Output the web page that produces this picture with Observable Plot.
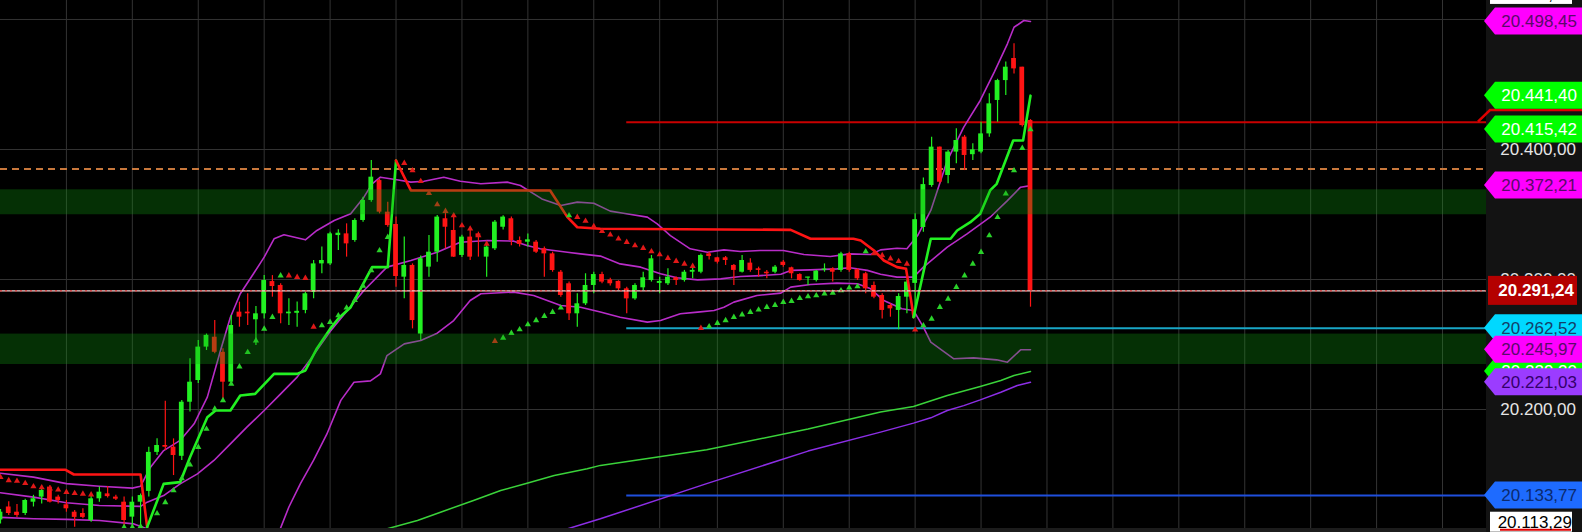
<!DOCTYPE html>
<html><head><meta charset="utf-8">
<script src="https://cdn.jsdelivr.net/npm/d3@7"></script>
<script src="https://cdn.jsdelivr.net/npm/@observablehq/plot@0.6"></script>
<style>html,body{margin:0;padding:0;background:#000;overflow:hidden}#chart svg{display:block}</style>
</head><body><div id="chart"></div>
<script>
// ---------- candle data (bar index 0..125) ----------
const open = [20115,20125,20121,20120,20128.7,20132.6,20140.3,20132.6,20126.7,20121,
20120,20114.6,20131.3,20135.1,20132.6,20128.7,20117.2,20128.7,20137,20167,
20172.3,20171,20164,20205.6,20222.3,20248,20255.6,20244,20221,20274.9,
20274.9,20269,20273.6,20298.4,20295.4,20273.6,20274,20276.2,20290,20312,
20312,20333.8,20335.1,20330,20345.4,20360.8,20376.1,20351.8,20342.3,20301.8,
20310.8,20258,20309.5,20321,20346.7,20337.7,20318.5,20332.6,20335.1,20317.2,
20323.6,20340.2,20346.7,20330,20328.7,20328.7,20323.6,20319.7,20305.6,20296.7,
20273.6,20281.3,20295.4,20303.8,20299.7,20298.5,20292.8,20285.1,20293.6,20299.2,
20297,20296.7,20301.3,20299.2,20305.6,20305.6,20319.7,20316.7,20316.7,20310.8,
20305.6,20312.6,20308.2,20305.6,20305.6,20313.3,20309,20303.8,20301,20299.2,
20307,20308.2,20307,20319.7,20307.5,20304.4,20295.4,20287.7,20280,20276.2,
20286.4,20297,20340,20372.3,20401.8,20380,20398,20409.5,20396,20398,
20412,20437.7,20453,20470,20463.3,20422.3];
const high = [20123,20129,20127,20131,20134,20141,20141.5,20134,20130,20122.3,
20123.6,20133.8,20140.3,20140.8,20134,20132.6,20132.6,20135,20171,20177.4,
20206.4,20177.4,20206.9,20239,20253,20258,20268.4,20246.7,20272.3,20282.6,
20289,20279.2,20303,20303,20296.7,20285.1,20282.6,20290.2,20314.6,20324.9,
20336.4,20338.2,20342.8,20346.7,20363.3,20391.5,20377.4,20359.5,20348,20332.6,
20312,20318,20333.8,20349.2,20353.1,20350.5,20334,20340.2,20336.4,20327.4,
20345.4,20349,20348,20332.6,20335,20330,20324.9,20321,20307,20298,
20289,20304.4,20305.6,20305.6,20301,20299,20294,20296.7,20305.6,20318.5,
20301.8,20308.2,20302,20307,20309.5,20319.7,20321,20317.2,20317.7,20311.5,
20318.5,20316,20309.5,20307,20310.8,20314.6,20309.5,20304.4,20301.8,20307,
20312,20309,20321,20321,20308.2,20305.6,20298,20289,20281.3,20289,
20299.2,20350.5,20378,20409.5,20402,20399.2,20415.9,20410.8,20404.4,20421,
20442.8,20454,20467.2,20481.3,20463.3,20423];
const low = [20112,20118.5,20117,20118.5,20125,20127.4,20128,20127.4,20121,20109.5,
20116,20113.3,20128.7,20132,20130,20109.5,20109.5,20109.5,20132.6,20164.6,
20168.5,20149.2,20160.8,20198,20220,20245.4,20242.8,20205.6,20218.5,20263.3,
20264.6,20249.2,20269.7,20286.4,20265.9,20264.6,20263.3,20273.6,20285.1,20304.4,
20310.8,20322.3,20317.2,20328.7,20344.1,20359.5,20350.5,20340.2,20294.1,20285.1,
20262,20253,20301.8,20313.3,20323.6,20317,20317,20314.6,20317.2,20301.8,
20322.3,20338,20326,20325,20325,20320,20301.8,20305.6,20286.4,20268.4,
20263.3,20280,20289,20296.7,20295,20291.5,20273.6,20284,20291.5,20298,
20289,20295.4,20295.4,20298,20300.5,20304.4,20315,20312,20310.8,20295.4,
20305,20305.6,20301.8,20300.5,20304.4,20309.5,20300.5,20298.7,20295.4,20298,
20305.6,20298,20305.6,20305.6,20299.2,20289,20285.1,20269.7,20271,20261.3,
20273.6,20271,20336.4,20371,20373.6,20373.6,20389,20383.8,20391.5,20396.7,
20409.5,20421,20441.5,20458,20417.2,20278.7];
const close = [20121,20120,20118.5,20130,20131.3,20137.7,20128.7,20130,20123.6,20117,
20117,20131.3,20136.4,20133,20131,20114.6,20128.7,20133.8,20167,20172.3,
20171,20164.6,20205.6,20221,20248,20257,20244,20221,20264.6,20271,
20273.6,20273.6,20299.2,20294.6,20273.6,20274.9,20275.5,20289,20312,20314.6,
20335.1,20335.6,20327.4,20345.4,20360.8,20378.7,20351.8,20341.5,20302.3,20310.8,
20268.4,20316,20321,20348,20340.2,20317.2,20332.6,20317.2,20332.6,20324.9,
20344.1,20348,20330,20327,20330.5,20321,20319.7,20306.9,20287.7,20273.6,
20281.3,20295.4,20303.8,20298,20296.7,20292.8,20285.1,20295.4,20301.3,20315.9,
20298.5,20301.8,20299.2,20305.6,20307,20318.5,20317.7,20313.3,20314.6,20307,
20314.6,20307,20307,20304.4,20309.5,20310.8,20304.4,20299.2,20301.8,20306.4,
20308,20305.6,20319.7,20307,20300.5,20292.8,20286.4,20276.2,20277.4,20286.9,
20298,20346,20373,20401.8,20374.8,20398,20406.9,20395.4,20399.7,20412,
20435.1,20453,20463.3,20462,20418.4,20291.24];

// ---------- parabolic SAR markers (null = none); r = above/red, g = below/green ----------
const sar = [20148,20145.5,20145,20143.3,20140.8,20140,20139,20138.2,20136.4,20135.6,
20135.1,20134.5,null,null,null,20109.5,20109.5,20110,null,20120,
20128.5,20137.7,20147,20157.5,20171,20185,20200.5,20207,20219.7,20233,
20244,20253,20262,20271,20303,20303,20301.8,20301,20263.5,20264.6,
20267.2,20272.3,20278.2,20284,20295,20307,20322.3,20332.6,null,20389.5,
20383.8,20375.6,20366.4,20357.7,20352.6,20349.2,20341.5,20339,20333.8,20327.4,
20252.6,20255.1,20258.7,20261.5,20265.4,20268.5,20271.8,20274.9,20278.2,20349.2,
20348,20345,20340.8,20337.2,20334.4,20331.3,20328.7,20326.1,20324.1,20321.5,
20319.2,20316.4,20314.1,20312,20310.3,20262.6,20263.8,20266.4,20268.5,20271,
20273,20274.9,20276.7,20278.7,20280.3,20282.6,20283.3,20285.6,20286.9,20287.7,
20289,20289.7,20291.5,20293.6,20294.6,20321.5,20320,20318.5,20316,20314,
20312,20261.3,20264.6,20269.7,20278.7,20285.1,20294.1,20303,20312,20321,
20333.8,20347.9,20365.9,20383.8,20401,20415.42];
const sarSide = "rrrrrrrrrrrr---ggg-ggggggggggggggggrrrrggggggggg-rrrrrrrrrrrrgggggggggrrrrrrrrrrrrrrrrggggggggggggggggggggrrrrrrgggggggggggggg";

// ---------- Bollinger bands [bar, value] ----------
const bbUpper = [[0,20151],[4,20148],[8,20143],[12,20141],[16,20139.5],[17,20141],[18.2,20155.6],[19.8,20168.4],[21.8,20176.2],[23.5,20189],[25.1,20209.5],[26.7,20245.4],[27.9,20271],[29.1,20289],[30.7,20304.4],[32,20317.2],[33.2,20331.3],[34.4,20334.4],[37,20330.5],[38.4,20337.7],[40.5,20345.4],[42.5,20350.5],[44.1,20363.3],[45.1,20373.6],[46.1,20378.7],[48.1,20376.7],[49.8,20374.9],[51.4,20375.6],[53.8,20378.7],[55.8,20375.6],[58.3,20373.6],[61.5,20374.9],[63.1,20372.3],[65.7,20362],[68,20356.9],[70,20359.5],[72,20358.7],[74,20352.6],[75.6,20351],[78.5,20348],[79.7,20342.8],[81.3,20333.8],[83.7,20323.6],[85.8,20321],[87.8,20322.8],[89.8,20321.5],[92.2,20322.3],[95,20322.3],[97.5,20319.2],[100.7,20317.7],[103.1,20319.7],[105.6,20319.2],[106.8,20322.8],[108.8,20324],[110,20323.6],[111.3,20333.8],[112.9,20353.1],[114.9,20391.5],[116.9,20417.2],[118.9,20437.7],[120.6,20459.5],[122.2,20481.3],[123,20494],[124.2,20499.2],[125,20498.45]];
const bbMiddle = [[0,20136],[4,20132.6],[8,20128.3],[12,20126.1],[17,20125.5],[17.8,20128.7],[19.8,20133.8],[21.8,20142.8],[23.9,20150.5],[25.9,20160.8],[27.9,20173.6],[29.9,20186.4],[32,20199.2],[34,20212],[36,20224.9],[38,20242],[40,20260],[44.1,20291.5],[46.9,20309.5],[49.8,20314.6],[53,20321],[55.8,20328.7],[59.1,20330],[62.3,20329.5],[63.9,20326.1],[65.5,20323.6],[68.8,20321],[70.4,20319.7],[72.8,20318],[75.2,20312],[77.7,20309.5],[80.1,20304.4],[82.1,20301.3],[84.6,20299.7],[87.4,20300.5],[89.8,20302.3],[92.2,20303],[94.7,20304],[95.9,20307],[98.3,20307.4],[101.5,20308.2],[103.1,20309],[105.2,20307],[106.8,20304],[108.8,20301.8],[110.8,20301.8],[112,20309.5],[114.9,20324.9],[117.3,20335.1],[120.1,20347.9],[122.2,20360.7],[123.8,20371],[125,20372.21]];
const bbLower = [[0,20117],[4,20116],[8,20115.5],[12,20114.6],[16.2,20112],[17.8,20108.2],[19,20102],[21,20096],[23,20088],[25,20078],[27,20070],[29,20064],[31,20066],[32.5,20080],[34,20109],[35,20125],[36.4,20143],[38,20161],[39.6,20181],[41.3,20207],[42.9,20221],[44.9,20222],[46.1,20227.4],[46.9,20241.5],[49,20250.5],[51,20253.1],[53,20258.7],[55,20268.4],[57,20283.8],[58.3,20289],[62.3,20290.3],[64.7,20287.7],[68,20280],[70.4,20278.7],[72.8,20275],[75.2,20271],[78.5,20267.2],[80.1,20268.5],[82.5,20273.6],[84.6,20274.9],[86.6,20276.2],[87.8,20278.7],[89,20282.6],[91.8,20287.7],[94.7,20289.5],[95.9,20294.1],[98.3,20296.2],[101.5,20297.2],[104,20296.7],[105.6,20292.8],[107.2,20283.8],[109.4,20277.5],[110.8,20276.2],[112,20263.3],[112.9,20251.8],[115.7,20239],[118.1,20239.7],[120.9,20238.2],[122.2,20236.4],[123.8,20245.9],[125,20245.97]];

// ---------- trailing stop (supertrend) ----------
const stRed1 = [[0,20153.6],[7.9,20153.6],[8.9,20150],[17,20150],[17.8,20109.5]];
const stGreen1 = [[17.8,20109.5],[19.8,20142.8],[21.8,20144.1],[23,20163.3],[25.1,20194],[26.1,20199.2],[27.9,20199.2],[29.1,20210.8],[30.9,20212],[33.2,20227.4],[36,20227.4],[37,20230],[38.4,20247],[40,20262],[41,20270],[42.5,20278.7],[45.1,20309.5],[47,20309.5],[48,20391.5]];
const stRed2 = [[48,20391.5],[49.8,20368.5],[66.7,20368.5],[68.8,20348],[70,20340.2],[72.8,20339],[95.9,20338.2],[98.3,20331.3],[103.5,20331.3],[104.4,20330],[106,20322.3],[107.2,20314.6],[108.8,20309.5],[109.9,20308.2],[110.7,20276.2],[110.8,20271]];
const stGreen2 = [[110.8,20271],[112.9,20331.3],[115.3,20331.3],[116.1,20337.7],[117.7,20344.1],[118.9,20350.5],[120.1,20368.5],[120.9,20373.6],[122.9,20406.9],[124.1,20406.9],[125,20441.4]];

// ---------- moving averages ----------
const maGreen = [[45,20104],[46.9,20108.2],[50.6,20114.6],[53.4,20121],[57.4,20130],[60.7,20137.7],[63.9,20143.3],[67.2,20149.2],[71.2,20154.4],[72.8,20157],[85.7,20169],[98,20185],[106.8,20198],[110.8,20202.3],[114.9,20210.8],[118.9,20217.7],[121.4,20222.3],[123,20226.2],[125,20229.2]];
const maPurple = [[67,20104],[68.8,20108.2],[72.8,20115.9],[85.7,20143],[98,20168],[106.8,20182.6],[110.8,20189.5],[112.9,20193.6],[114.9,20199.2],[116.9,20203],[118.9,20207.4],[121.4,20213.3],[123.4,20218.5],[125,20221.03]];

// ---------- levels ----------
const zones = [[20349.8, 20369], [20234.6, 20258]];
const dashedLevel = 20385;
const lastPrice = 20291.24;
const refLevels = [20421, 20262.52, 20133.77];
const refColors = ["#c80000", "#18a6c6", "#1f4fdc"];
const refStartBar = 76;
const redLevelRight = 20430;
const gridBars = [8,16,24,32,40,48,56,64,72,80,87,95,103,111,119,127,135,143,151,159,167,175];
const gridLevels = [20200, 20300, 20400, 20500];

// right-side labels
const axisTicks = [20500, 20400, 20300, 20200];
const tagValues = [20498.45, 20441.40, 20415.42, 20372.21, 20262.52, 20229.20, 20245.97, 20221.03, 20133.77];
const tagFills  = ["#ff00ff","#00ff00","#00ff00","#ff00ff","#00d8ff","#00ff00","#ff00ff","#9b3cff","#1e6bff"];
const tagInks   = ["#5a0a6a","#ffffff","#ffffff","#5a0a6a","#12406a","#ffffff","#5a0a6a","#34006a","#0b2a6e"];
const rangeTop = 20514.65;
const rangeBottom = 20113.29;

// ---------- build ----------
const W = 1582, H = 532, MR = 96, MB = 4;
const xMax = (W - MR) / 8.24;
const GREEN = "#22f022", RED = "#ff1414", MAG = "#b82cc8";
const candles = open.map((o, i) => ({i, o, h: high[i], l: low[i], c: close[i], col: close[i] >= o ? GREEN : RED}));
const sarData = sar.map((v, i) => ({i, v, col: sarSide[i] === "r" ? "#e01818" : "#2ad22a"})).filter(d => d.v != null);
const P = d => d[0], V = d => d[1];

const plot = Plot.plot({
  width: W, height: H, marginLeft: 0, marginRight: MR, marginTop: 0, marginBottom: MB,
  x: {domain: [0, xMax], axis: null},
  y: {domain: [20108.46, 20514.6], axis: null},
  color: {type: "identity"},
  style: {background: "#000"},
  marks: [
    Plot.ruleX(gridBars, {stroke: "#333", strokeWidth: 1}),
    Plot.ruleY(gridLevels, {stroke: "#333", strokeWidth: 1}),
    Plot.ruleY([dashedLevel], {stroke: "#c8783c", strokeWidth: 2, strokeDasharray: "7,5"}),
    Plot.ruleY(refLevels, {y: d => d, x1: () => refStartBar, x2: () => xMax, stroke: (d, i) => refColors[i], strokeWidth: 2}),
    Plot.line(maGreen, {x: P, y: V, stroke: "#3ad23a", strokeWidth: 1.5, clip: true}),
    Plot.line(maPurple, {x: P, y: V, stroke: "#8c2ee6", strokeWidth: 1.5, clip: true}),
    Plot.line(bbUpper, {x: P, y: V, stroke: MAG, strokeWidth: 1.6, clip: true}),
    Plot.line(bbMiddle, {x: P, y: V, stroke: MAG, strokeWidth: 1.6, clip: true}),
    Plot.line(bbLower, {x: P, y: V, stroke: MAG, strokeWidth: 1.6, clip: true}),
    Plot.ruleX(candles, {x: "i", y1: "l", y2: "h", stroke: "col", strokeWidth: 1.2}),
    Plot.rect(candles, {x1: d => d.i - 0.29, x2: d => d.i + 0.29,
      y1: d => Math.min(d.o, d.c), y2: d => Math.max(d.o, d.c, Math.min(d.o, d.c) + 0.9), fill: "col"}),
    Plot.line(stRed1, {x: P, y: V, stroke: RED, strokeWidth: 2.6, clip: true}),
    Plot.line(stGreen1, {x: P, y: V, stroke: GREEN, strokeWidth: 2.6, clip: true}),
    Plot.line(stRed2, {x: P, y: V, stroke: RED, strokeWidth: 2.6, clip: true}),
    Plot.line(stGreen2, {x: P, y: V, stroke: GREEN, strokeWidth: 2.6, clip: true}),
    Plot.dot(sarData, {x: "i", y: "v", symbol: "triangle", r: 2.3, fill: "col", stroke: null}),
    Plot.ruleY([lastPrice], {stroke: "#f4d0d0", strokeWidth: 1.2}),
    Plot.ruleY([lastPrice], {stroke: "#d83838", strokeWidth: 1.4, strokeDasharray: "2,3"}),
    Plot.rect(zones, {x1: () => 0, x2: () => xMax, y1: d => d[0], y2: d => d[1], fill: "#12a012", fillOpacity: 0.3})
  ]
});
document.getElementById("chart").appendChild(plot);

// ---------- right panel (price scale) ----------
const ys = plot.scale("y");
const y = v => ys.apply(v);
const fmt = d3.formatLocale({decimal: ",", thousands: ".", grouping: [3], currency: ["", ""]}).format(",.2f");
const svg = d3.select(plot);
const plotRight = W - MR;
const FONT = "'Liberation Sans', Arial, sans-serif";

svg.append("rect").attr("x", 0).attr("y", H - MB).attr("width", plotRight).attr("height", MB).attr("fill", "#1c1c1c");
svg.append("rect").attr("x", plotRight).attr("y", 0).attr("width", MR).attr("height", H).attr("fill", "#131313");

// red level continues into the scale area
svg.append("path")
  .attr("d", `M${plotRight - 8},${y(refLevels[0])}L${plotRight + 4},${y(redLevelRight)}L${W},${y(redLevelRight)}`)
  .attr("fill", "none").attr("stroke", "#e00000").attr("stroke-width", 2.5);

const g = svg.append("g").attr("font-family", FONT).attr("font-size", 17);

axisTicks.forEach(v => {
  g.append("text").attr("x", W - 6).attr("y", y(v)).attr("dy", "0.36em")
    .attr("text-anchor", "end").attr("fill", "#e6e6e6").text(fmt(v));
});

const TH = 27, TIP = plotRight - 2, SH = plotRight + 9;
tagValues.forEach((v, i) => {
  const cy = y(v);
  g.append("path")
    .attr("d", `M${TIP},${cy}L${SH},${cy - TH / 2}L${W},${cy - TH / 2}L${W},${cy + TH / 2}L${SH},${cy + TH / 2}Z`)
    .attr("fill", tagFills[i]);
  g.append("text").attr("x", W - 5).attr("y", cy).attr("dy", "0.36em")
    .attr("text-anchor", "end").attr("fill", tagInks[i]).text(fmt(v));
});

// last price box
{
  const cy = y(lastPrice);
  g.append("rect").attr("x", plotRight + 2).attr("y", cy - 14.5).attr("width", 89).attr("height", 29).attr("fill", "#b40000");
  g.append("text").attr("x", W - 8).attr("y", cy).attr("dy", "0.36em").attr("text-anchor", "end")
    .attr("fill", "#ffffff").attr("font-weight", "bold").text(fmt(lastPrice));
}
// visible range boxes
{
  const cyT = y(rangeTop) - 6;
  g.append("rect").attr("x", plotRight + 4).attr("y", cyT - 10).attr("width", 82).attr("height", 20).attr("fill", "#ffffff");
  g.append("text").attr("x", W - 10).attr("y", cyT).attr("dy", "0.36em").attr("text-anchor", "end").attr("fill", "#000").text(fmt(rangeTop));
  const cyB = y(rangeBottom);
  g.append("rect").attr("x", plotRight + 4).attr("y", cyB - 10).attr("width", 82).attr("height", 20).attr("fill", "#ffffff");
  g.append("line").attr("x1", plotRight + 14).attr("x2", plotRight + 85).attr("y1", cyB + 8).attr("y2", cyB + 8).attr("stroke", "#e00000").attr("stroke-width", 2);
  g.append("text").attr("x", W - 10).attr("y", cyB).attr("dy", "0.36em").attr("text-anchor", "end").attr("fill", "#000").text(fmt(rangeBottom));
}
</script>
</body></html>
